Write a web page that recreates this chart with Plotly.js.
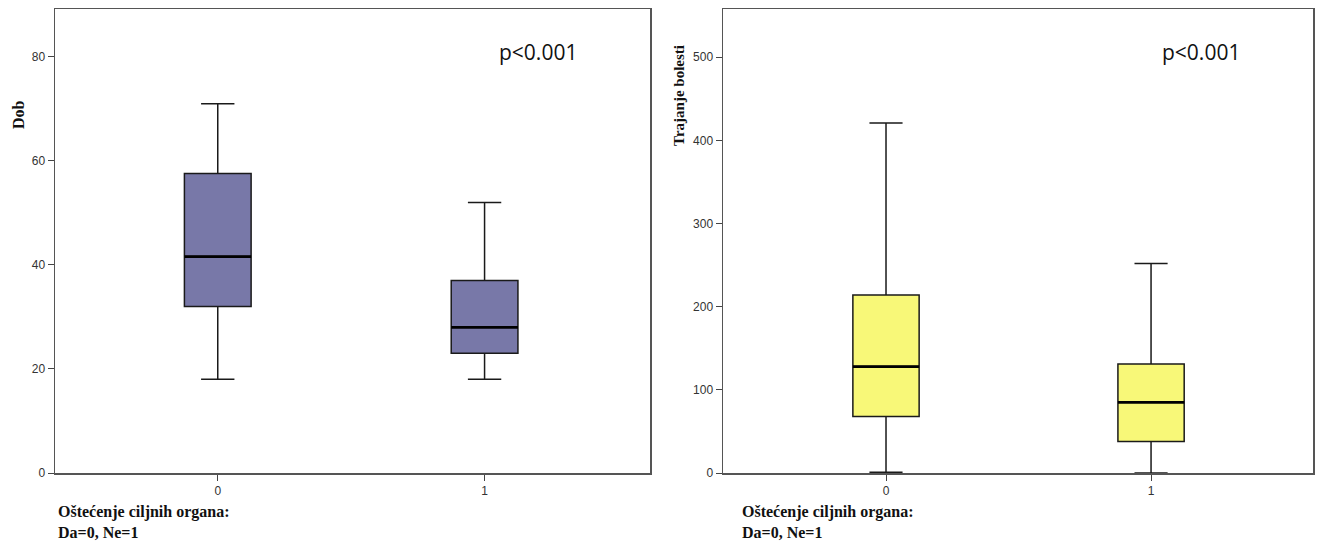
<!DOCTYPE html>
<html><head><meta charset="utf-8">
<script src="https://cdn.plot.ly/plotly-3.0.1.min.js"></script>
<style>html,body{margin:0;padding:0;background:#fff}#c{width:1320px;height:546px}</style>
</head><body><div id="c"></div>
<script>
const categories = [0, 1];
const tickLabels = ['0', '1'];
// Dob (age)
const dobLower = [18, 18];
const dobQ1 = [32, 23];
const dobMedian = [41.6, 28];
const dobQ3 = [57.6, 37];
const dobUpper = [71, 52];
// Trajanje bolesti (disease duration)
const trLower = [1, 0];
const trQ1 = [68, 38];
const trMedian = [128, 85];
const trQ3 = [214, 131];
const trUpper = [421, 252];

const boxW = 0.25;
const serif = 'Liberation Serif, Times New Roman, serif';
const sans = 'Liberation Sans, Arial, sans-serif';

function boxTrace(lo, q1, med, q3, hi, fill, xa, ya) {
  return {
    type: 'box', x: categories, lowerfence: lo, q1: q1, median: med, q3: q3, upperfence: hi,
    fillcolor: fill, line: {color: '#1a1a1a', width: 1.5}, whiskerwidth: 0.5, width: boxW,
    xaxis: xa, yaxis: ya, hoverinfo: 'skip', showlegend: false, boxpoints: false
  };
}
function medianTrace(med, xa, ya) {
  const xs = [], ys = [];
  categories.forEach((c, i) => { xs.push(c - boxW / 2, c + boxW / 2, null); ys.push(med[i], med[i], null); });
  return {type: 'scatter', mode: 'lines', x: xs, y: ys, line: {color: '#000', width: 2.8},
    xaxis: xa, yaxis: ya, hoverinfo: 'skip', showlegend: false};
}

const data = [
  boxTrace(dobLower, dobQ1, dobMedian, dobQ3, dobUpper, '#7878a8', 'x', 'y'),
  medianTrace(dobMedian, 'x', 'y'),
  boxTrace(trLower, trQ1, trMedian, trQ3, trUpper, '#f8f878', 'x2', 'y2'),
  medianTrace(trMedian, 'x2', 'y2')
];

const axCommon = {
  showline: true, mirror: true, linecolor: '#555', linewidth: 1.5, showgrid: false, zeroline: false,
  ticks: 'outside', ticklen: 6, tickcolor: '#444', tickfont: {family: sans, size: 12, color: '#333'}
};
const yDom = [73 / 546, 537 / 546];
const pFont = {family: 'Open Sans, sans-serif', size: 21, color: '#111'};
const tFont = {family: serif, size: 16, color: '#111'};
const layout = {
  width: 1320, height: 546, margin: {l: 0, r: 0, t: 0, b: 0},
  paper_bgcolor: '#fff', plot_bgcolor: '#fff',
  xaxis: Object.assign({}, axCommon, {domain: [55 / 1320, 650 / 1320], range: [-0.61, 1.62],
    tickvals: categories, ticktext: tickLabels, anchor: 'y'}),
  yaxis: Object.assign({}, axCommon, {domain: yDom, range: [0, 89.2], tickvals: [0, 20, 40, 60, 80], anchor: 'x'}),
  xaxis2: Object.assign({}, axCommon, {domain: [723 / 1320, 1313 / 1320], range: [-0.615, 1.611],
    tickvals: categories, ticktext: tickLabels, anchor: 'y2'}),
  yaxis2: Object.assign({}, axCommon, {domain: yDom, range: [0, 558], tickvals: [0, 100, 200, 300, 400, 500], anchor: 'x2'}),
  annotations: [
    {text: 'p<0.001', xref: 'paper', yref: 'paper', x: 497 / 1320, y: (546 - 52) / 546, xanchor: 'left', yanchor: 'middle',
      showarrow: false, font: pFont},
    {text: 'p<0.001', xref: 'paper', yref: 'paper', x: 1160 / 1320, y: (546 - 52) / 546, xanchor: 'left', yanchor: 'middle',
      showarrow: false, font: pFont},
    {text: '<b>Dob</b>', xref: 'paper', yref: 'paper', x: 18 / 1320, y: (546 - 115) / 546, textangle: -90,
      xanchor: 'center', yanchor: 'middle', showarrow: false, font: {family: serif, size: 16, color: '#111'}},
    {text: '<b>Trajanje bolesti</b>', xref: 'paper', yref: 'paper', x: 679 / 1320, y: (546 - 96) / 546, textangle: -90,
      xanchor: 'center', yanchor: 'middle', showarrow: false, font: {family: serif, size: 15, color: '#111'}},
    {text: '<b>Oštećenje ciljnih organa:<br>Da=0, Ne=1</b>', xref: 'paper', yref: 'paper', x: 56 / 1320, y: (546 - 522) / 546,
      xanchor: 'left', yanchor: 'middle', align: 'left', showarrow: false, font: tFont},
    {text: '<b>Oštećenje ciljnih organa:<br>Da=0, Ne=1</b>', xref: 'paper', yref: 'paper', x: 740 / 1320, y: (546 - 522) / 546,
      xanchor: 'left', yanchor: 'middle', align: 'left', showarrow: false, font: tFont}
  ]
};
Plotly.newPlot('c', data, layout, {staticPlot: true, displayModeBar: false});
</script></body></html>
